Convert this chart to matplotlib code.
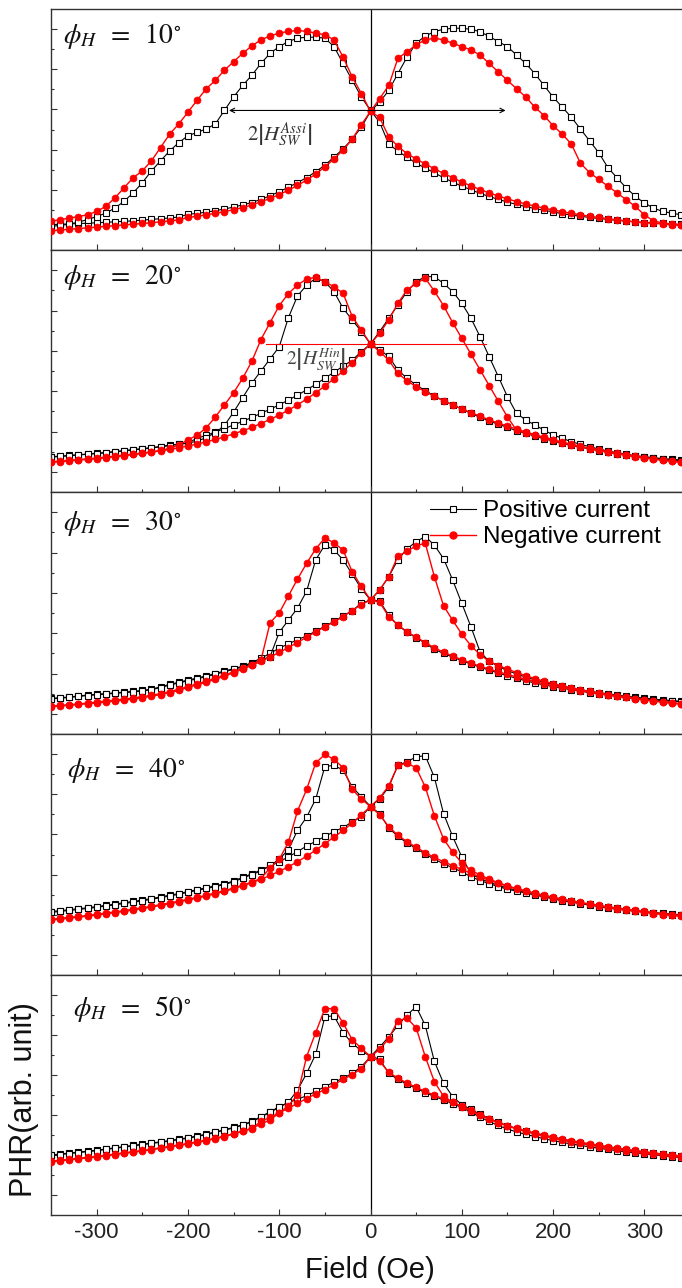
import matplotlib
matplotlib.use("Agg")
from matplotlib import pyplot as plt
from matplotlib.lines import Line2D

plt.rcParams['font.family'] = ['Liberation Sans', 'DejaVu Sans']
plt.rcParams['mathtext.fontset'] = 'stix'
plt.rcParams['axes.unicode_minus'] = False

# applied field (Oe), common grid for every sweep
field = [-350, -340, -330, -320, -310, -300, -290, -280, -270, -260,
         -250, -240, -230, -220, -210, -200, -190, -180, -170, -160,
         -150, -140, -130, -120, -110, -100, -90, -80, -70, -60,
         -50, -40, -30, -20, -10,
         0,
         10, 20, 30, 40, 50, 60, 70, 80, 90, 100,
         110, 120, 130, 140, 150, 160, 170, 180, 190, 200,
         210, 220, 230, 240, 250, 260, 270, 280, 290, 300,
         310, 320, 330, 340, 350]

angles = [10, 20, 30, 40, 50]

# PHR (arb. unit); "up" = sweep -350 -> 350, "dn" = sweep 350 -> -350
# each list: -350..-10 | 0 | 10..350
pos_up_10 = [.105, .107, .108, .110, .111, .113, .115, .117, .119, .121, .124, .127, .130, .133, .137, .148, .152, .157,
             .163, .170, .178, .187, .197, .210, .225, .242, .260, .280, .300, .325, .352, .385, .420, .460, .510,
             .575,
             .614, .662, .732, .800, .858, .888, .906, .916, .920, .920, .916, .906, .886, .865, .844, .809, .774,
             .732, .683, .635, .593, .551, .502, .453, .404, .342, .300, .258, .223, .195, .174, .160, .153, .146, .139]
pos_dn_10 = [.098, .102, .107, .116, .126, .139, .153, .174, .202, .237, .279, .328, .370, .411, .446, .474, .488, .502,
             .523, .579, .635, .683, .725, .774, .816, .844, .865, .879, .883, .883, .879, .844, .774, .704, .635,
             .579,
             .530, .440, .410, .385, .360, .340, .320, .300, .282, .265, .250, .235, .222, .210, .199, .189, .180,
             .172, .165, .158, .151, .145, .140, .135, .131, .127, .123, .120, .117, .114, .112, .110, .108, .106, .105]
neg_up_10 = [.080, .083, .086, .089, .092, .095, .098, .101, .104, .107, .110, .113, .117, .121, .125, .135, .140, .146,
             .152, .159, .167, .176, .187, .200, .214, .230, .248, .268, .290, .315, .345, .378, .415, .460, .520,
             .575,
             .628, .683, .795, .823, .851, .872, .879, .872, .858, .844, .830, .809, .774, .739, .704, .669, .635,
             .593, .558, .516, .481, .440, .360, .321, .293, .265, .237, .209, .181, .146, .121, .112, .107, .105, .102]
neg_dn_10 = [.119, .126, .132, .139, .146, .160, .181, .216, .258, .300, .328, .370, .425, .481, .523, .572, .621, .669,
             .704, .746, .781, .816, .847, .872, .888, .900, .907, .911, .907, .900, .893, .872, .800, .718, .649,
             .575,
             .550, .470, .430, .400, .378, .357, .337, .318, .300, .282, .266, .251, .237, .224, .212, .201, .191,
             .182, .174, .166, .159, .152, .146, .140, .135, .130, .125, .121, .117, .114, .111, .108, .105, .102, .100]

pos_up_20 = [.146, .148, .151, .154, .157, .160, .163, .167, .171, .175, .179, .183, .188, .193, .198, .203, .222, .234,
             .248, .262, .277, .292, .308, .325, .342, .360, .380, .400, .422, .445, .470, .495, .520, .545, .580,
             .612,
             .663, .718, .773, .828, .869, .890, .890, .862, .828, .780, .718, .642, .559, .477, .394, .325, .298,
             .277, .256, .236, .222, .208, .197, .187, .178, .169, .163, .156, .150, .146, .142, .138, .135, .132, .130]
pos_dn_20 = [.144, .147, .150, .153, .156, .159, .162, .166, .170, .174, .178, .182, .187, .192, .197, .202, .210, .225,
             .245, .275, .330, .390, .450, .500, .550, .600, .720, .810, .855, .883, .869, .828, .759, .711, .663,
             .612,
             .587, .560, .504, .470, .442, .419, .397, .377, .360, .342, .325, .309, .293, .280, .267, .253, .242,
             .231, .220, .211, .201, .193, .185, .178, .171, .164, .158, .153, .147, .143, .139, .135, .132, .130, .127]
neg_up_20 = [.125, .128, .131, .134, .137, .140, .144, .148, .152, .156, .160, .165, .170, .176, .183, .190, .198, .207,
             .217, .228, .240, .253, .267, .283, .300, .318, .338, .360, .384, .410, .438, .468, .500, .535, .575,
             .612,
             .656, .711, .780, .835, .862, .883, .830, .770, .700, .635, .570, .505, .440, .375, .310, .255, .245,
             .234, .223, .213, .204, .195, .187, .179, .172, .165, .158, .152, .146, .141, .136, .131, .127, .123, .119]
neg_dn_20 = [.123, .126, .129, .132, .135, .138, .142, .146, .150, .155, .160, .166, .172, .180, .195, .215, .235, .265,
             .310, .360, .410, .470, .540, .630, .700, .770, .820, .855, .880, .887, .869, .848, .821, .725, .669,
             .612,
             .580, .545, .490, .460, .435, .415, .395, .377, .360, .344, .328, .313, .298, .285, .272, .260, .248,
             .237, .226, .216, .206, .197, .189, .181, .174, .167, .160, .154, .148, .142, .137, .132, .128, .124, .120]

pos_up_30 = [.147, .150, .153, .157, .161, .164, .167, .170, .173, .176, .180, .185, .195, .205, .214, .223, .231, .240,
             .250, .260, .270, .280, .295, .313, .333, .355, .372, .390, .405, .425, .445, .465, .488, .510, .540,
             .554,
             .595, .650, .720, .765, .795, .816, .780, .725, .636, .540, .443, .340, .300, .280, .262, .248, .235,
             .224, .214, .205, .197, .190, .183, .177, .171, .166, .161, .156, .152, .148, .144, .141, .138, .135, .133]
pos_dn_30 = [.145, .148, .151, .155, .159, .162, .165, .168, .171, .174, .178, .183, .192, .202, .211, .220, .228, .237,
             .247, .257, .267, .277, .290, .305, .320, .420, .470, .520, .590, .720, .781, .760, .720, .660, .600,
             .554,
             .550, .490, .450, .420, .398, .375, .350, .333, .318, .303, .289, .276, .264, .252, .241, .230, .220,
             .211, .203, .196, .189, .183, .177, .171, .166, .161, .156, .152, .148, .144, .141, .138, .135, .133, .131]
neg_up_30 = [.113, .116, .119, .122, .125, .128, .132, .136, .140, .145, .150, .156, .163, .171, .180, .193, .203, .214,
             .226, .239, .253, .268, .284, .300, .318, .337, .357, .378, .400, .422, .443, .463, .485, .510, .535,
             .554,
             .595, .650, .735, .755, .778, .788, .650, .530, .470, .413, .365, .328, .300, .283, .268, .254, .241,
             .229, .218, .208, .199, .191, .183, .176, .169, .163, .157, .151, .146, .141, .136, .131, .127, .123, .119]
neg_dn_30 = [.115, .118, .121, .124, .128, .132, .136, .140, .144, .149, .154, .160, .167, .175, .185, .196, .207, .218,
             .230, .243, .257, .271, .287, .305, .460, .500, .570, .640, .705, .765, .810, .790, .760, .670, .610,
             .554,
             .545, .485, .450, .423, .400, .378, .356, .338, .322, .307, .293, .280, .268, .257, .246, .236, .226,
             .217, .208, .200, .193, .186, .179, .173, .167, .161, .156, .151, .146, .141, .137, .133, .129, .125, .122]

pos_up_40 = [.263, .267, .271, .275, .279, .284, .289, .294, .300, .305, .311, .317, .324, .331, .338, .346, .354, .362,
             .370, .378, .390, .405, .420, .435, .452, .470, .490, .512, .535, .555, .575, .595, .612, .635, .657,
             .699,
             .730, .780, .870, .885, .905, .910, .820, .670, .575, .490, .420, .400, .385, .372, .361, .352, .344,
             .336, .328, .320, .312, .305, .299, .293, .287, .281, .276, .271, .267, .263, .259, .256, .253, .250, .247]
pos_dn_40 = [.260, .264, .268, .272, .276, .281, .286, .291, .297, .302, .308, .314, .321, .328, .335, .343, .351, .359,
             .367, .375, .387, .402, .417, .432, .455, .480, .520, .600, .655, .730, .865, .870, .850, .780, .740,
             .699,
             .670, .610, .575, .548, .525, .502, .480, .462, .445, .428, .408, .392, .379, .367, .356, .348, .340,
             .332, .324, .316, .308, .302, .296, .290, .284, .278, .273, .269, .265, .261, .257, .254, .251, .249, .246]
neg_up_40 = [.228, .232, .236, .240, .244, .249, .254, .259, .264, .270, .276, .282, .289, .296, .303, .311, .319, .328,
             .337, .347, .358, .370, .383, .397, .413, .430, .449, .470, .493, .518, .545, .572, .600, .630, .665,
             .699,
             .735, .785, .870, .879, .860, .780, .660, .565, .510, .465, .435, .415, .398, .383, .370, .359, .349,
             .340, .331, .323, .315, .308, .301, .295, .289, .283, .278, .273, .268, .264, .259, .255, .251, .247, .244]
neg_dn_40 = [.231, .235, .239, .243, .247, .252, .257, .262, .267, .273, .279, .285, .292, .299, .306, .314, .322, .331,
             .340, .350, .361, .373, .386, .400, .445, .480, .550, .680, .770, .880, .915, .895, .860, .770, .730,
             .699,
             .665, .615, .580, .553, .530, .508, .488, .470, .454, .438, .422, .407, .393, .380, .368, .357, .347,
             .338, .329, .321, .313, .306, .299, .293, .287, .281, .275, .270, .265, .260, .255, .251, .247, .243, .240]

pos_up_50 = [.250, .254, .258, .262, .266, .270, .275, .280, .285, .290, .295, .300, .305, .310, .316, .322, .329, .337,
             .346, .355, .365, .376, .390, .410, .430, .451, .468, .482, .497, .515, .535, .553, .570, .590, .618,
             .660,
             .700, .742, .790, .833, .868, .790, .640, .549, .493, .460, .440, .420, .402, .386, .372, .360, .349,
             .339, .330, .321, .313, .306, .299, .293, .287, .281, .276, .271, .266, .262, .258, .254, .250, .246, .242]
pos_dn_50 = [.248, .252, .256, .260, .264, .268, .273, .278, .283, .288, .293, .298, .303, .308, .314, .320, .327, .335,
             .344, .353, .363, .374, .388, .408, .428, .449, .470, .520, .590, .670, .826, .830, .760, .715, .685,
             .660,
             .650, .590, .565, .545, .528, .510, .494, .479, .464, .448, .428, .408, .390, .373, .358, .346, .336,
             .327, .318, .310, .303, .296, .290, .284, .278, .273, .268, .263, .259, .255, .251, .247, .243, .239, .236]
neg_up_50 = [.222, .226, .230, .234, .238, .242, .247, .252, .257, .262, .267, .272, .278, .284, .290, .296, .303, .310,
             .318, .327, .337, .348, .360, .390, .407, .425, .445, .465, .485, .505, .522, .543, .565, .585, .610,
             .660,
             .690, .735, .810, .820, .780, .660, .555, .495, .470, .452, .433, .415, .399, .385, .372, .361, .351,
             .342, .333, .325, .317, .310, .303, .297, .291, .285, .279, .274, .269, .264, .259, .254, .250, .246, .242]
neg_dn_50 = [.224, .228, .232, .236, .240, .244, .249, .254, .259, .264, .269, .274, .280, .286, .292, .298, .305, .312,
             .320, .329, .339, .350, .362, .378, .397, .425, .455, .500, .660, .760, .860, .860, .800, .730, .695,
             .660,
             .640, .595, .570, .550, .532, .515, .499, .484, .469, .454, .436, .418, .401, .385, .371, .359, .348,
             .338, .329, .320, .312, .305, .298, .291, .285, .279, .273, .268, .263, .258, .253, .249, .245, .241, .237]

# switching-field markers (Oe) drawn in the first two panels
sw_assi = (-155, 148)
sw_hin = (-114, 126)

sweeps = [
    (pos_up_10, pos_dn_10, neg_up_10, neg_dn_10),
    (pos_up_20, pos_dn_20, neg_up_20, neg_dn_20),
    (pos_up_30, pos_dn_30, neg_up_30, neg_dn_30),
    (pos_up_40, pos_dn_40, neg_up_40, neg_dn_40),
    (pos_up_50, pos_dn_50, neg_up_50, neg_dn_50),
]
for s in sweeps:
    for arr in s:
        assert len(arr) == len(field), len(arr)

W, H = 682, 1288
fig = plt.figure(figsize=(W / 100, H / 100), dpi=100)

edges = [9, 250, 492, 734, 975, 1215]
x0, x1 = 51, 690
label_y = [0.89, 0.885, 0.87, 0.85, 0.86]
label_x = [0.018, 0.018, 0.018, 0.025, 0.035]

axes = []
for i, (ang, (pu, pd, nu, nd)) in enumerate(zip(angles, sweeps)):
    top, bot = edges[i], edges[i + 1]
    ax = fig.add_axes([x0 / W, 1 - bot / H, (x1 - x0) / W, (bot - top) / H])
    axes.append(ax)

    for br in (pu, pd):
        ax.plot(field, br, color='black', lw=0.8, marker='s', ms=4.6,
                mfc='white', mec='black', mew=0.8, zorder=2)
    for br in (nu, nd):
        ax.plot(field, br, color='red', lw=1.0, marker='o', ms=5,
                mfc='red', mec='red', mew=0.5, zorder=3)

    ax.axvline(0, color='black', lw=0.9, zorder=1)
    ax.set_xlim(-350, 350)
    ax.set_ylim(0, 1)

    ax.set_xticks([-300, -200, -100, 0, 100, 200, 300])
    ax.set_xticks([-250, -150, -50, 50, 150, 250], minor=True)
    ax.set_yticks([(2 * k + 1) / 12 for k in range(6)])
    ax.set_yticks([k / 6 for k in range(1, 6)], minor=True)
    ax.tick_params(which='both', direction='in', top=False, right=False,
                   labelleft=False, labelbottom=(i == 4), labelsize=16,
                   width=0.8, pad=5, color='#333333', labelcolor='#222222')
    ax.tick_params(which='major', length=4)
    ax.tick_params(which='minor', length=2.5)
    for sp in ax.spines.values():
        sp.set_linewidth(1.0)
        sp.set_color('#333333')

    ax.text(label_x[i], label_y[i], r'$\phi_H\;\;=\;\;%d^{\circ}$' % ang,
            transform=ax.transAxes, fontsize=20, va='center', ha='left',
            color='#111111')

# panel 1: assisted switching width
ax = axes[0]
ax.annotate('', xy=(sw_assi[1], 0.579), xytext=(sw_assi[0], 0.579),
            arrowprops=dict(arrowstyle='<->', lw=0.8, color='black',
                            shrinkA=0, shrinkB=0, mutation_scale=8), zorder=4)
ax.text(-100, 0.48, r'$2\left|H_{SW}^{Assi}\right|$', ha='center', va='center',
        fontsize=15, color='#333333', zorder=5)

# panel 2: hindered switching width
ax = axes[1]
ax.plot(sw_hin, [0.612, 0.612], color='red', lw=0.8, zorder=4)
ax.text(-60, 0.55, r'$2\left|H_{SW}^{Hin}\right|$', ha='center', va='center',
        fontsize=14, color='#444444', zorder=5)

# legend in the 30 degree panel
handles = [
    Line2D([], [], color='black', lw=0.8, marker='s', ms=4.6, mfc='white', mec='black', mew=0.8),
    Line2D([], [], color='red', lw=1.0, marker='o', ms=5, mfc='red', mec='red'),
]
axes[2].legend(handles, ['Positive current', 'Negative current'], loc='upper left',
               bbox_to_anchor=(0.593, 0.965), frameon=False, fontsize=17.5,
               handlelength=1.9, handletextpad=0.3, labelspacing=0.15,
               borderpad=0, borderaxespad=0)

fig.text(370 / W, 1 - 1270 / H, 'Field (Oe)', fontsize=21, ha='center', va='center',
         color='#111111')
fig.text(24 / W, 1 - 1100 / H, 'PHR(arb. unit)', fontsize=22, ha='center', va='center',
         rotation=90, color='#111111')

fig.savefig('out.png', dpi=100)
